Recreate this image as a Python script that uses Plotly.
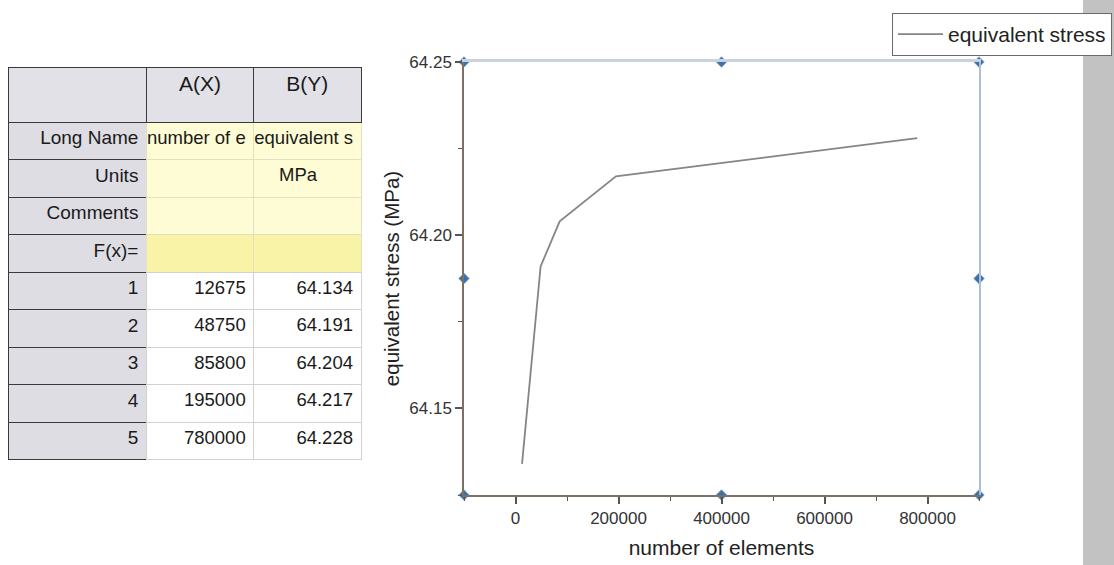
import plotly.graph_objects as go

# ---- data ----
num_elements = [12675, 48750, 85800, 195000, 780000]
eq_stress = [64.134, 64.191, 64.204, 64.217, 64.228]
row_index = ["1", "2", "3", "4", "5"]
header_labels = ["", "A(X)", "B(Y)"]
meta_row_labels = ["Long Name", "Units", "Comments", "F(x)="]
long_names = ["number of e", "equivalent s"]
units = ["", "MPa"]
x_tick_vals = [0, 200000, 400000, 600000, 800000]
x_tick_text = ["0", "200000", "400000", "600000", "800000"]
x_minor_vals = [-100000, 100000, 300000, 500000, 700000, 900000]
y_tick_vals = [64.15, 64.20, 64.25]
y_tick_text = ["64.15", "64.20", "64.25"]
y_minor_vals = [64.125, 64.175, 64.225]
x_range = [-100000, 900000]
y_range = [64.125, 64.25]
series_name = "equivalent stress"
x_title = "number of elements"
y_title = "equivalent stress (MPa)"

W, H = 1114, 565
def fx(x):
    return x / W
def fy(y):
    return 1 - y / H

sans = "Liberation Sans, Arial, sans-serif"
NB = "\u00a0"

def keep(s):
    # non-breaking spaces so table cells do not wrap
    return s.replace(" ", NB)

# ---- table columns built from data ----
col0 = [keep(s) for s in meta_row_labels] + row_index
col1 = [keep(long_names[0]), units[0], "", ""] + [str(v) for v in num_elements]
col2 = [keep(long_names[1]), units[1] + NB * 7, "", ""] + [f"{v:.3f}" for v in eq_stress]
n_rows = len(col0)

grey = "#dddde3"
light_yellow = "#fdfcd4"
strong_yellow = "#f8f3a6"
white = "#ffffff"
data_fill = [light_yellow, light_yellow, light_yellow, strong_yellow] + [white] * len(num_elements)
fills = [[grey] * n_rows, data_fill, data_fill]
dark_line = "#3a3a3a"
data_line = ["#e2e0c0"] * 4 + ["#d2d2d2"] * len(num_elements)
line_colors = [[dark_line] * n_rows, data_line, data_line]

fig = go.Figure()

fig.add_trace(go.Table(
    domain=dict(x=[fx(8), fx(361)], y=[fy(462), fy(67)]),
    columnwidth=[138, 107, 107],
    header=dict(values=header_labels, height=55, fill_color="#e1e1e7",
                line=dict(color=dark_line, width=1),
                font=dict(family=sans, size=21, color="#1a1a1a"),
                align="center"),
    cells=dict(values=[col0, col1, col2], height=37.5, fill_color=fills,
               line=dict(color=line_colors, width=1),
               font=dict(family=sans, size=[19, 18.5, 18.5], color="#1a1a1a"),
               align=["right", "right", "right"]),
))

# data line
fig.add_trace(go.Scatter(
    x=num_elements, y=eq_stress, mode="lines", name=series_name,
    line=dict(color="#858585", width=1.8), xaxis="x", yaxis="y",
))

# selection handles at frame corners / midpoints (derived from axis ranges)
hx, hy = [], []
xm = (x_range[0] + x_range[1]) / 2
ym = (y_range[0] + y_range[1]) / 2
for xv in (x_range[0], xm, x_range[1]):
    for yv in (y_range[0], ym, y_range[1]):
        if xv == xm and yv == ym:
            continue
        hx.append(xv)
        hy.append(yv)
fig.add_trace(go.Scatter(
    x=hx, y=hy, mode="markers", showlegend=False, hoverinfo="skip",
    marker=dict(symbol="diamond", size=8, color="#3d6ea6",
                line=dict(color="#7fa3c9", width=1)),
    xaxis="x2", yaxis="y2", cliponaxis=False,
))

xdom = [fx(464), fx(979)]
ydom = [fy(495), fy(62)]

fig.update_layout(
    width=W, height=H,
    margin=dict(l=0, r=0, t=0, b=0, autoexpand=False),
    paper_bgcolor="white", plot_bgcolor="white",
    xaxis=dict(domain=xdom, range=x_range, anchor="y", automargin=False,
               showline=True, linecolor="#7d7064", linewidth=1.5,
               showgrid=False, zeroline=False,
               tickvals=x_tick_vals, ticktext=x_tick_text,
               ticks="outside", ticklen=7, tickwidth=1.5, tickcolor="#555",
               minor=dict(tickvals=x_minor_vals, ticks="outside", ticklen=4,
                          tickwidth=1.2, tickcolor="#555", showgrid=False),
               tickfont=dict(family=sans, size=17, color="#333"),
               title=dict(text=x_title, font=dict(family=sans, size=21, color="#222"),
                          standoff=13)),
    yaxis=dict(domain=ydom, range=y_range, anchor="x", automargin=False,
               showline=True, linecolor="#7d7064", linewidth=1.5,
               showgrid=False, zeroline=False,
               tickvals=y_tick_vals, ticktext=y_tick_text,
               ticks="outside", ticklen=7, tickwidth=1.5, tickcolor="#555",
               minor=dict(tickvals=y_minor_vals, ticks="outside", ticklen=4,
                          tickwidth=1.2, tickcolor="#555", showgrid=False),
               tickfont=dict(family=sans, size=17, color="#333"),
               title=dict(text=y_title, font=dict(family=sans, size=20.5, color="#222"),
                          standoff=4)),
    xaxis2=dict(domain=xdom, range=x_range, overlaying="x", side="top", anchor="y2",
                automargin=False,
                showline=True, linecolor="#c8d3df", linewidth=3,
                showgrid=False, zeroline=False, showticklabels=False, ticks=""),
    yaxis2=dict(domain=ydom, range=y_range, overlaying="y", side="right", anchor="x2",
                automargin=False,
                showline=True, linecolor="#aac0d6", linewidth=2,
                showgrid=False, zeroline=False, showticklabels=False, ticks=""),
    legend=dict(x=fx(1112), xanchor="right", y=fy(13), yanchor="top",
                itemwidth=45,
                bgcolor="white", bordercolor="#6a6a6a", borderwidth=1,
                font=dict(family=sans, size=21, color="#222")),
    showlegend=True,
    shapes=[dict(type="rect", xref="paper", yref="paper",
                 x0=fx(1083), x1=1, y0=0, y1=1, fillcolor="#c2c2c2",
                 line=dict(width=0), layer="below")],
)

fig.write_html("out.html")
